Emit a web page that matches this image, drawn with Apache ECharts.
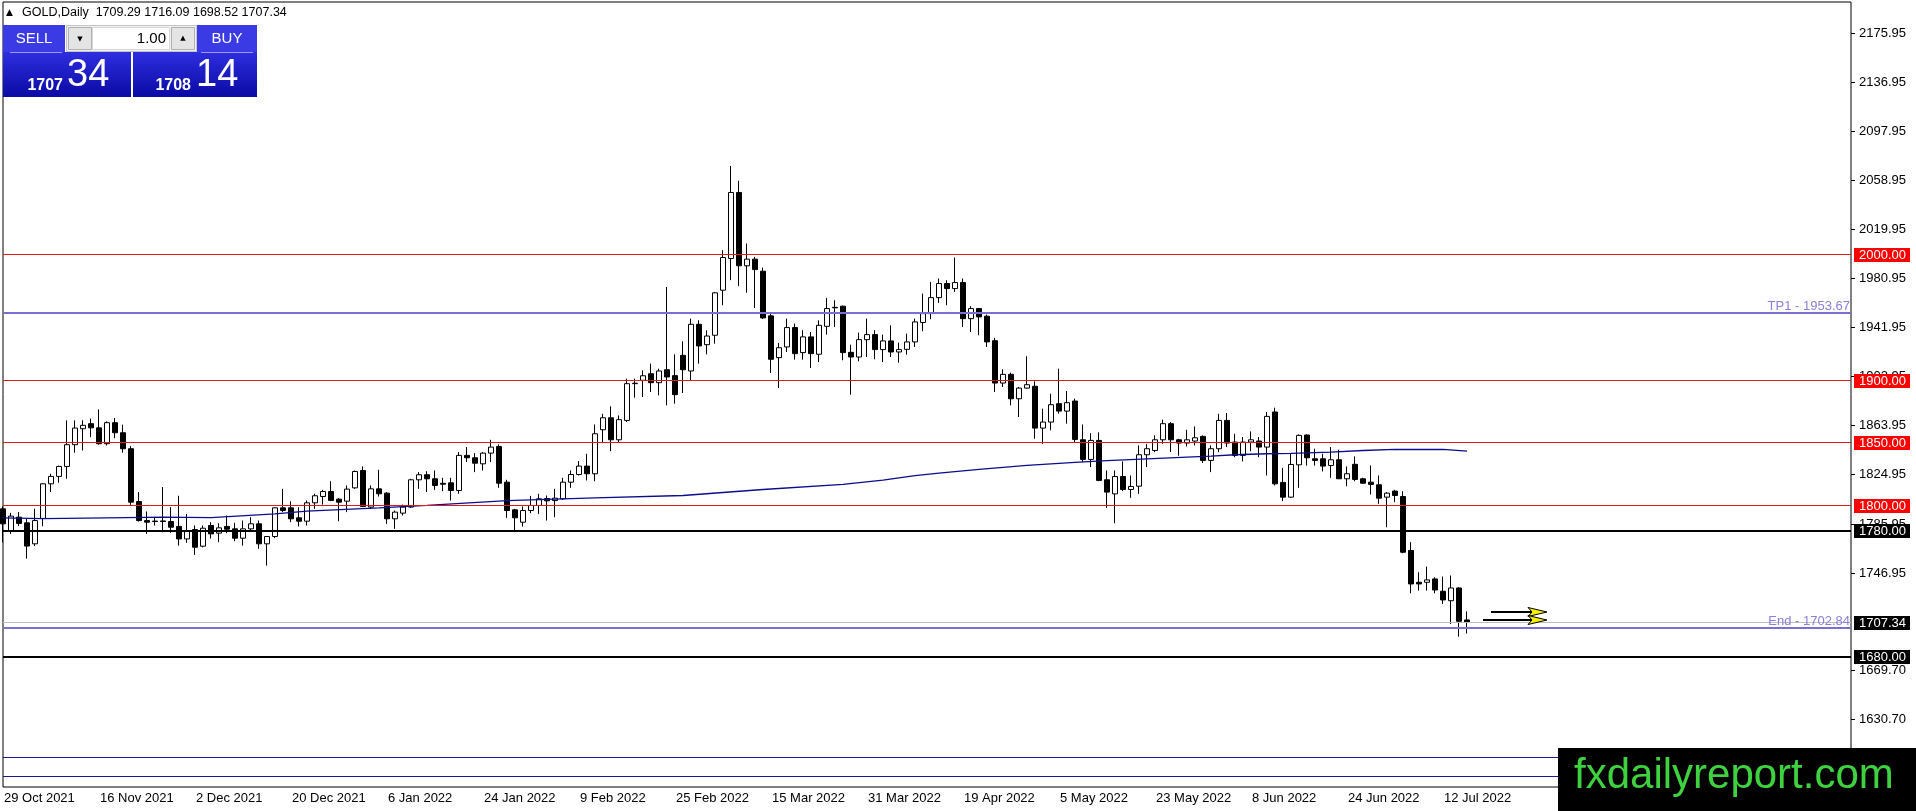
<!DOCTYPE html>
<html>
<head>
<meta charset="utf-8">
<script src="https://cdn.jsdelivr.net/npm/echarts@6/dist/echarts.min.js"></script>
<style>
html,body{margin:0;padding:0;background:#fff;overflow:hidden;}
#chart{width:1916px;height:811px;}
</style>
</head>
<body>
<div id="chart"></div>
<script>
// ---------------- DATA ----------------
const symbolName = 'GOLD';
const timeframe = 'Daily';
const lotSize = '1.00';
const askPrice = 1708.14;

const dates = [
'29 Oct 2021',
'1 Nov 2021','2 Nov 2021','3 Nov 2021','4 Nov 2021','5 Nov 2021','8 Nov 2021','9 Nov 2021','10 Nov 2021','11 Nov 2021','12 Nov 2021',
'15 Nov 2021','16 Nov 2021','17 Nov 2021','18 Nov 2021','19 Nov 2021','22 Nov 2021','23 Nov 2021','24 Nov 2021','25 Nov 2021','26 Nov 2021','29 Nov 2021','30 Nov 2021',
'1 Dec 2021','2 Dec 2021','3 Dec 2021','6 Dec 2021','7 Dec 2021','8 Dec 2021','9 Dec 2021','10 Dec 2021','13 Dec 2021','14 Dec 2021','15 Dec 2021',
'16 Dec 2021','17 Dec 2021','20 Dec 2021','21 Dec 2021','22 Dec 2021','23 Dec 2021','27 Dec 2021','28 Dec 2021','29 Dec 2021','30 Dec 2021','31 Dec 2021',
'3 Jan 2022','4 Jan 2022','5 Jan 2022','6 Jan 2022','7 Jan 2022','10 Jan 2022','11 Jan 2022','12 Jan 2022','13 Jan 2022','14 Jan 2022','17 Jan 2022',
'18 Jan 2022','19 Jan 2022','20 Jan 2022','21 Jan 2022','24 Jan 2022','25 Jan 2022','26 Jan 2022','27 Jan 2022','28 Jan 2022','31 Jan 2022',
'1 Feb 2022','2 Feb 2022','3 Feb 2022','4 Feb 2022','7 Feb 2022','8 Feb 2022','9 Feb 2022','10 Feb 2022','11 Feb 2022','14 Feb 2022',
'15 Feb 2022','16 Feb 2022','17 Feb 2022','18 Feb 2022','21 Feb 2022','22 Feb 2022','23 Feb 2022','24 Feb 2022','25 Feb 2022','28 Feb 2022',
'1 Mar 2022','2 Mar 2022','3 Mar 2022','4 Mar 2022','7 Mar 2022','8 Mar 2022','9 Mar 2022','10 Mar 2022','11 Mar 2022','14 Mar 2022','15 Mar 2022',
'16 Mar 2022','17 Mar 2022','18 Mar 2022','21 Mar 2022','22 Mar 2022','23 Mar 2022','24 Mar 2022','25 Mar 2022','28 Mar 2022','29 Mar 2022','30 Mar 2022','31 Mar 2022',
'1 Apr 2022','4 Apr 2022','5 Apr 2022','6 Apr 2022','7 Apr 2022','8 Apr 2022','11 Apr 2022','12 Apr 2022','13 Apr 2022','14 Apr 2022',
'18 Apr 2022','19 Apr 2022','20 Apr 2022','21 Apr 2022','22 Apr 2022','25 Apr 2022','26 Apr 2022','27 Apr 2022','28 Apr 2022','29 Apr 2022',
'2 May 2022','3 May 2022','4 May 2022','5 May 2022','6 May 2022','9 May 2022','10 May 2022','11 May 2022','12 May 2022','13 May 2022','16 May 2022',
'17 May 2022','18 May 2022','19 May 2022','20 May 2022','23 May 2022','24 May 2022','25 May 2022','26 May 2022','27 May 2022','30 May 2022','31 May 2022',
'1 Jun 2022','2 Jun 2022','3 Jun 2022','6 Jun 2022','7 Jun 2022','8 Jun 2022','9 Jun 2022','10 Jun 2022','13 Jun 2022','14 Jun 2022','15 Jun 2022',
'16 Jun 2022','17 Jun 2022','20 Jun 2022','21 Jun 2022','22 Jun 2022','23 Jun 2022','24 Jun 2022','27 Jun 2022','28 Jun 2022','29 Jun 2022','30 Jun 2022',
'1 Jul 2022','4 Jul 2022','5 Jul 2022','6 Jul 2022','7 Jul 2022','8 Jul 2022','11 Jul 2022','12 Jul 2022','13 Jul 2022','14 Jul 2022','15 Jul 2022'
];

// [open, close, low, high]
const candles = [
[1797.6,1785.7,1771.0,1799.5],
[1779.6,1791.8,1777.7,1794.4],[1791.0,1786.0,1784.0,1795.0],[1786.5,1768.0,1758.0,1789.5],[1769.8,1788.3,1768.0,1797.6],[1790.0,1817.5,1783.8,1818.0],
[1817.5,1823.4,1811.0,1825.5],[1823.4,1831.3,1818.3,1832.0],[1831.3,1848.6,1821.5,1867.9],[1848.6,1861.8,1842.2,1867.9],[1861.3,1864.0,1844.0,1868.0],
[1865.3,1862.0,1854.6,1869.3],[1862.0,1849.4,1848.6,1876.7],[1849.4,1866.1,1848.0,1867.1],[1866.1,1858.1,1853.8,1869.8],[1858.1,1845.4,1842.2,1864.5],
[1845.4,1802.9,1800.8,1847.5],[1803.4,1788.3,1787.5,1810.9],[1788.3,1787.0,1777.7,1795.5],[1787.5,1787.9,1784.4,1791.0],[1787.5,1788.0,1779.0,1814.9],
[1787.5,1783.0,1778.5,1799.0],[1783.6,1773.7,1768.4,1808.0],
[1773.7,1779.6,1770.6,1793.6],[1781.2,1767.1,1761.0,1784.4],[1767.9,1782.2,1767.0,1784.4],[1784.4,1777.7,1774.0,1787.0],[1778.3,1782.5,1771.1,1786.2],
[1783.6,1781.4,1778.3,1792.3],[1781.7,1774.3,1771.9,1786.5],[1774.3,1781.7,1768.4,1788.3],[1781.7,1785.7,1780.4,1791.0],[1785.7,1769.8,1765.8,1788.3],
[1769.8,1775.6,1752.5,1775.9],[1775.6,1798.4,1774.3,1798.8],[1798.4,1796.3,1795.0,1813.5],[1798.4,1789.7,1787.0,1803.7],[1790.5,1787.8,1783.6,1798.9],
[1787.8,1802.4,1784.4,1804.3],[1802.4,1808.0,1797.6,1809.6],[1807.4,1811.4,1801.0,1812.7],[1811.4,1804.3,1803.7,1819.6],[1805.3,1802.9,1787.8,1806.1],
[1803.7,1813.3,1795.0,1816.2],[1814.3,1827.3,1813.5,1828.1],
[1828.1,1799.5,1799.0,1831.3],[1799.0,1813.5,1797.6,1816.2],[1813.5,1809.6,1807.4,1828.7],[1810.1,1789.7,1785.7,1810.9],[1789.7,1795.0,1781.7,1796.3],
[1794.2,1799.0,1792.3,1801.0],[1799.0,1820.7,1798.4,1821.5],[1820.7,1824.7,1813.5,1826.8],[1824.7,1821.5,1810.9,1827.5],[1821.5,1816.2,1812.7,1828.1],
[1817.9,1817.2,1811.7,1822.3],[1818.3,1812.2,1804.2,1822.3],[1812.2,1840.1,1809.6,1842.7],[1840.1,1838.2,1834.8,1846.7],[1838.2,1833.9,1826.8,1841.9],
[1833.4,1841.9,1828.1,1842.7],[1841.9,1846.7,1834.8,1852.5],[1847.2,1818.0,1814.3,1848.8],[1818.8,1796.3,1790.5,1820.7],[1796.8,1790.5,1780.4,1797.6],
[1787.0,1796.3,1783.6,1799.5],
[1796.3,1800.3,1794.2,1807.9],[1800.3,1805.6,1793.6,1809.6],[1805.8,1804.0,1788.3,1808.2],[1804.2,1806.1,1791.0,1813.5],[1805.6,1818.8,1804.8,1822.3],
[1818.8,1824.9,1814.3,1828.1],[1824.9,1831.6,1824.1,1835.6],[1831.6,1825.5,1820.2,1841.4],[1825.5,1857.3,1819.6,1864.7],[1860.5,1870.0,1849.9,1873.2],
[1870.0,1852.5,1843.5,1879.1],[1852.5,1868.5,1849.9,1871.9],[1867.9,1897.1,1866.6,1901.1],[1897.1,1897.5,1886.0,1901.1],[1899.8,1903.4,1886.5,1907.7],
[1905.0,1897.9,1890.5,1913.0],[1897.9,1907.2,1887.8,1909.0],[1908.2,1902.4,1879.9,1974.0],[1903.5,1888.4,1881.2,1920.4],[1919.6,1908.2,1889.7,1930.8],
[1907.2,1944.3,1899.8,1948.8],[1944.3,1927.1,1913.0,1947.5],[1928.1,1935.0,1920.4,1939.6],[1935.6,1969.3,1928.9,1970.1],[1971.4,1997.4,1959.5,2003.2],
[1996.6,2049.1,1979.4,2070.1],[2049.1,1990.8,1974.6,2058.4],[1990.8,1996.1,1969.3,2008.5],[1996.1,1987.8,1957.3,1997.9],[1986.5,1949.4,1948.6,1989.4],
[1951.0,1916.5,1905.6,1952.8],[1917.8,1925.7,1893.7,1929.5],[1926.3,1941.7,1922.3,1948.8],[1941.7,1921.0,1916.2,1944.9],[1921.8,1934.3,1916.2,1939.6],
[1934.3,1921.0,1909.6,1938.2],[1920.5,1943.5,1914.3,1947.5],[1942.7,1956.8,1936.1,1965.3],[1957.8,1957.4,1942.2,1963.4],[1958.7,1921.8,1915.7,1959.2],
[1922.0,1918.3,1888.3,1928.1],[1918.3,1932.1,1914.9,1937.7],[1932.1,1936.1,1918.3,1948.8],
[1936.1,1924.2,1916.5,1939.6],[1924.2,1931.1,1914.3,1936.1],[1931.1,1922.3,1918.3,1943.5],[1922.3,1924.2,1913.8,1929.7],[1924.4,1930.3,1920.2,1936.9],
[1930.3,1946.2,1926.3,1948.8],[1945.7,1952.8,1938.8,1968.7],[1952.8,1965.5,1948.3,1978.0],[1965.5,1976.7,1961.3,1980.7],[1976.7,1972.7,1959.5,1979.3],
[1972.7,1977.5,1970.1,1997.4],[1977.5,1948.8,1942.2,1980.7],[1948.8,1956.8,1938.2,1958.7],[1956.8,1950.2,1935.6,1957.3],[1950.7,1930.3,1926.3,1952.0],
[1931.3,1897.6,1890.5,1933.5],[1897.6,1904.5,1894.5,1908.5],[1904.5,1885.1,1879.9,1905.9],[1885.1,1893.6,1870.6,1894.5],[1893.6,1896.3,1893.1,1918.9],
[1895.0,1861.8,1853.3,1899.0],[1861.8,1866.6,1849.3,1877.2],[1866.6,1880.4,1860.0,1889.1],[1881.2,1875.3,1873.2,1909.0],[1875.3,1882.0,1865.3,1891.3],
[1883.3,1852.8,1850.7,1885.2],[1852.5,1836.9,1834.8,1864.7],[1836.9,1852.0,1830.8,1857.8],[1852.0,1820.2,1819.6,1858.4],[1820.7,1810.9,1798.4,1828.1],
[1809.5,1823.3,1786.2,1828.1],[1823.3,1813.0,1811.7,1835.3],[1813.0,1815.4,1806.4,1824.1],[1815.6,1840.6,1809.5,1848.0],[1840.6,1845.4,1830.8,1849.3],
[1844.0,1852.5,1842.7,1856.0],[1852.5,1865.3,1849.3,1868.5],[1865.3,1852.5,1842.7,1866.6],[1852.5,1849.9,1839.8,1853.3],[1849.9,1852.5,1847.2,1860.5],
[1851.5,1854.1,1848.0,1863.1],[1855.2,1836.1,1834.0,1856.0],
[1836.1,1845.4,1826.8,1848.0],[1845.4,1867.9,1842.7,1873.2],[1867.9,1849.9,1846.7,1873.8],[1850.7,1840.1,1838.7,1857.3],[1840.1,1850.7,1835.3,1854.7],
[1850.7,1852.5,1843.5,1859.2],[1851.5,1846.7,1838.7,1854.7],[1846.7,1871.1,1824.1,1874.6],[1874.6,1817.5,1816.2,1878.0],[1818.6,1806.9,1803.7,1830.2],
[1806.9,1832.9,1806.4,1841.4],[1832.6,1856.0,1814.3,1856.8],[1856.3,1838.2,1832.0,1856.8],[1837.4,1836.1,1832.0,1845.4],[1837.4,1831.6,1827.3,1841.4],
[1832.1,1836.6,1822.3,1846.7],[1836.6,1821.5,1821.5,1844.6],[1821.5,1825.5,1815.6,1831.3],[1833.0,1821.0,1819.6,1839.3],[1821.5,1818.0,1817.5,1822.3],
[1818.8,1817.0,1809.0,1832.1],[1816.7,1806.1,1801.6,1824.1],
[1806.9,1810.1,1783.0,1810.9],[1811.7,1808.2,1802.9,1812.7],[1807.4,1763.1,1762.3,1811.7],[1764.5,1737.9,1730.5,1771.1],[1739.2,1737.9,1732.6,1747.2],
[1739.2,1741.1,1732.6,1751.7],[1741.9,1733.1,1730.5,1743.2],[1732.1,1725.2,1722.0,1743.8],[1724.6,1734.7,1706.0,1744.6],[1734.7,1708.2,1696.0,1735.3],
[1709.29,1707.34,1698.52,1716.09]
];

// moving average, sampled [barIndex, value]
const maPoints = [
[0,1790.5],[5,1789.8],[13,1790.5],[20,1791.0],[26,1790.6],[34,1793.6],[38,1795.8],[47,1798.4],[53,1800.3],
[63,1804.2],[74,1806.4],[85,1808.2],[95,1813.0],[105,1817.0],[110,1820.5],[114,1824.0],[117,1826.0],[122,1829.0],
[128,1832.1],[134,1834.6],[138,1836.0],[143,1837.4],[148,1838.7],[151,1839.5],[154,1840.6],[158,1841.4],[161,1841.7],
[166,1842.7],[170,1844.0],[174,1844.8],[180,1844.8],[183,1843.5]
];

const priceTicks = [2175.95,2136.95,2097.95,2058.95,2019.95,1980.95,1941.95,1902.95,1863.95,1824.95,1785.95,1746.95,1669.70,1630.70];
const redLevels = [2000, 1900, 1850, 1800];
const blackLevels = [1780, 1680];
const targetLevels = [['TP1', 1953.67], ['End', 1702.84]];
const channelLevels = [1600.0, 1585.2];
// arrows: [fromBar, toBar, price]
const arrowMarks = [[185.7, 193.4, 1715.4], [185.2, 192.9, 1709.3]];
const labelEvery = 12;

// ---------------- CHART ----------------
const FONT = '13px "Liberation Sans", Arial, sans-serif';
const last = candles[candles.length - 1];
const bid = last[1];

const chart = echarts.init(document.getElementById('chart'), null, {renderer: 'canvas'});

function levelSeries(values, lineColor, lineWidth, boxColor, z) {
  return {
    type: 'custom', coordinateSystem: 'cartesian2d', silent: true, z: z, clip: false,
    data: values.map(v => [0, v]),
    renderItem: function (params, api) {
      const v = api.value(1);
      const cs = params.coordSys;
      let y = api.coord([0, v])[1];
      y = lineWidth % 2 ? Math.round(y - 0.5) + 0.5 : Math.round(y);
      const children = [{
        type: 'line', shape: {x1: cs.x, y1: y, x2: cs.x + cs.width, y2: y},
        style: {stroke: lineColor, lineWidth: lineWidth}
      }];
      if (boxColor) {
        const yc = Math.round(y);
        children.push({type: 'rect', shape: {x: cs.x + cs.width + 3, y: yc - 7, width: 56, height: 14}, style: {fill: boxColor}, z2: 10});
        children.push({type: 'text', x: cs.x + cs.width + 8, y: yc + 0.5, z2: 11,
          style: {text: v.toFixed(2), fill: '#fff', font: FONT, align: 'left', verticalAlign: 'middle'}});
      }
      return {type: 'group', children: children};
    }
  };
}

const option = {
  animation: false,
  backgroundColor: '#ffffff',
  grid: {
    left: 3, top: 2, width: 1848, height: 785,
    show: true, borderColor: '#000', borderWidth: 1, backgroundColor: '#fff',
    containLabel: false, outerBoundsMode: 'none'
  },
  xAxis: {
    type: 'category', data: dates, boundaryGap: false, min: 0, max: 231,
    axisLine: {show: false}, axisTick: {show: false}, splitLine: {show: false},
    axisLabel: {
      interval: function (idx) { return idx % labelEvery === 0 && idx < dates.length; },
      align: 'left', margin: 5, color: '#000',
      fontFamily: '"Liberation Sans", Arial, sans-serif', fontSize: 13, padding: [0, 0, 0, 1],
      hideOverlap: false
    }
  },
  yAxis: {
    type: 'value', position: 'right', min: 1576.5, max: 2200.5, scale: true,
    axisLine: {show: false}, axisTick: {show: false}, axisLabel: {show: false}, splitLine: {show: false}
  },
  series: [
    {
      type: 'candlestick', data: candles, barWidth: 5, z: 2,
      itemStyle: {color: '#fff', color0: '#000', borderColor: '#000', borderColor0: '#000', borderWidth: 1}
    },
    {
      type: 'line', data: maPoints, showSymbol: false, symbol: 'none', z: 3, silent: true,
      lineStyle: {color: '#0c0c8c', width: 1.3}
    },
    // price axis ticks
    {
      type: 'custom', coordinateSystem: 'cartesian2d', silent: true, z: 4, clip: false,
      data: priceTicks.map(v => [0, v]),
      renderItem: function (params, api) {
        const v = api.value(1);
        const cs = params.coordSys;
        const y = Math.round(api.coord([0, v])[1]) + 0.5;
        const x0 = cs.x + cs.width;
        return {type: 'group', children: [
          {type: 'line', shape: {x1: x0, y1: y, x2: x0 + 4, y2: y}, style: {stroke: '#000', lineWidth: 1}},
          {type: 'text', x: x0 + 8, y: y, style: {text: v.toFixed(2), fill: '#000', font: FONT, align: 'left', verticalAlign: 'middle'}}
        ]};
      }
    },
    levelSeries(channelLevels, '#1a1a8c', 1, null, 5),
    levelSeries([bid], '#c0c0c0', 1, '#000', 6),
    levelSeries(redLevels, '#dc1c1c', 1, '#ff0000', 7),
    levelSeries(blackLevels, '#000', 2, '#000', 8),
    // target lines with captions
    {
      type: 'custom', coordinateSystem: 'cartesian2d', silent: true, z: 9, clip: false,
      data: targetLevels.map(t => [0, t[1]]),
      renderItem: function (params, api) {
        const t = targetLevels[params.dataIndex];
        const cs = params.coordSys;
        const y = Math.round(api.coord([0, api.value(1)])[1]);
        return {type: 'group', children: [
          {type: 'line', shape: {x1: cs.x, y1: y, x2: cs.x + cs.width, y2: y}, style: {stroke: '#7a70d2', lineWidth: 2}},
          {type: 'text', x: cs.x + cs.width - 1, y: y - 0.5, style: {text: t[0] + ' - ' + t[1].toFixed(2), fill: '#8a80dc', font: FONT, align: 'right', verticalAlign: 'bottom'}}
        ]};
      }
    },
    // arrows
    {
      type: 'custom', coordinateSystem: 'cartesian2d', silent: true, z: 10, clip: false,
      data: arrowMarks,
      renderItem: function (params, api) {
        const p1 = api.coord([api.value(0), api.value(2)]);
        const p2 = api.coord([api.value(1), api.value(2)]);
        const y = Math.round(p1[1]);
        const tip = p2[0];
        return {type: 'group', children: [
          {type: 'line', shape: {x1: p1[0], y1: y, x2: tip - 14, y2: y}, style: {stroke: '#000', lineWidth: 2}},
          {type: 'polygon', shape: {points: [[tip - 19, y - 4.5], [tip, y], [tip - 19, y + 4.5], [tip - 15, y]]},
            style: {fill: '#f4f000', stroke: '#000', lineWidth: 1}}
        ]};
      }
    }
  ],
  graphic: [
    // header
    {type: 'text', x: 6, y: 13, z: 100, style: {text: '\u25B2', font: '9px "DejaVu Sans", sans-serif', fill: '#000', verticalAlign: 'middle'}},
    {type: 'text', x: 22, y: 13, z: 100, style: {
      text: symbolName + ',' + timeframe + '  ' + last[0].toFixed(2) + ' ' + last[3].toFixed(2) + ' ' + last[2].toFixed(2) + ' ' + last[1].toFixed(2),
      font: '12.5px "Liberation Sans", Arial, sans-serif', fill: '#000', verticalAlign: 'middle'}},
    // trade panel
    {type: 'rect', z: 100, shape: {x: 3, y: 25, width: 62, height: 27}, style: {fill: '#3b3be6'}},
    {type: 'rect', z: 100, shape: {x: 197, y: 25, width: 60, height: 27}, style: {fill: '#3b3be6'}},
    {type: 'rect', z: 100, shape: {x: 3, y: 52, width: 128, height: 45},
      style: {fill: new echarts.graphic.LinearGradient(0, 0, 0, 1, [{offset: 0, color: '#2e2ee0'}, {offset: 1, color: '#0a0aa4'}])}},
    {type: 'rect', z: 100, shape: {x: 133, y: 52, width: 124, height: 45},
      style: {fill: new echarts.graphic.LinearGradient(0, 0, 0, 1, [{offset: 0, color: '#2e2ee0'}, {offset: 1, color: '#0a0aa4'}])}},
    {type: 'line', z: 101, shape: {x1: 10, y1: 52.5, x2: 62, y2: 52.5}, style: {stroke: '#9a9af4', lineWidth: 1}},
    {type: 'line', z: 101, shape: {x1: 201, y1: 52.5, x2: 253, y2: 52.5}, style: {stroke: '#9a9af4', lineWidth: 1}},
    {type: 'rect', z: 100, shape: {x: 66.5, y: 25.5, width: 130, height: 26}, style: {fill: '#f0f0f0', stroke: '#c4c4c4', lineWidth: 1}},
    {type: 'rect', z: 101, shape: {x: 68.5, y: 27.5, width: 23, height: 22}, style: {fill: '#e4e4e4', stroke: '#b0b0b0', lineWidth: 1}},
    {type: 'rect', z: 101, shape: {x: 92.5, y: 27.5, width: 77, height: 22}, style: {fill: '#ffffff', stroke: '#d8d8d8', lineWidth: 1}},
    {type: 'rect', z: 101, shape: {x: 171.5, y: 27.5, width: 23, height: 22}, style: {fill: '#e4e4e4', stroke: '#b0b0b0', lineWidth: 1}},
    {type: 'text', z: 102, x: 80, y: 39, style: {text: '\u25BC', font: '7px "DejaVu Sans", sans-serif', fill: '#000', align: 'center', verticalAlign: 'middle'}},
    {type: 'text', z: 102, x: 183, y: 38, style: {text: '\u25B2', font: '7px "DejaVu Sans", sans-serif', fill: '#000', align: 'center', verticalAlign: 'middle'}},
    {type: 'text', z: 102, x: 166, y: 39, style: {text: lotSize, font: '15px "Liberation Sans", Arial, sans-serif', fill: '#000', align: 'right', verticalAlign: 'middle'}},
    {type: 'text', z: 102, x: 34, y: 39, style: {text: 'SELL', font: '15px "Liberation Sans", Arial, sans-serif', fill: '#fff', align: 'center', verticalAlign: 'middle'}},
    {type: 'text', z: 102, x: 227, y: 39, style: {text: 'BUY', font: '15px "Liberation Sans", Arial, sans-serif', fill: '#fff', align: 'center', verticalAlign: 'middle'}},
    {type: 'text', z: 102, x: 63, y: 86, style: {text: String(Math.floor(bid)), font: 'bold 16px "Liberation Sans", Arial, sans-serif', fill: '#fff', align: 'right', verticalAlign: 'middle'}},
    {type: 'text', z: 102, x: 67, y: 76, style: {text: bid.toFixed(2).split('.')[1], font: '38px "Liberation Sans", Arial, sans-serif', fill: '#fff', align: 'left', verticalAlign: 'middle'}},
    {type: 'text', z: 102, x: 191, y: 86, style: {text: String(Math.floor(askPrice)), font: 'bold 16px "Liberation Sans", Arial, sans-serif', fill: '#fff', align: 'right', verticalAlign: 'middle'}},
    {type: 'text', z: 102, x: 196, y: 76, style: {text: askPrice.toFixed(2).split('.')[1], font: '38px "Liberation Sans", Arial, sans-serif', fill: '#fff', align: 'left', verticalAlign: 'middle'}},
    // watermark
    {type: 'rect', z: 200, shape: {x: 1558, y: 748, width: 358, height: 63}, style: {fill: '#000'}},
    {type: 'text', z: 201, x: 1574, y: 776, style: {text: 'fxdailyreport.com', font: '42px "Liberation Sans", Arial, sans-serif', fill: '#3fd23f', align: 'left', verticalAlign: 'middle'}}
  ]
};

chart.setOption(option);
</script>
</body>
</html>
